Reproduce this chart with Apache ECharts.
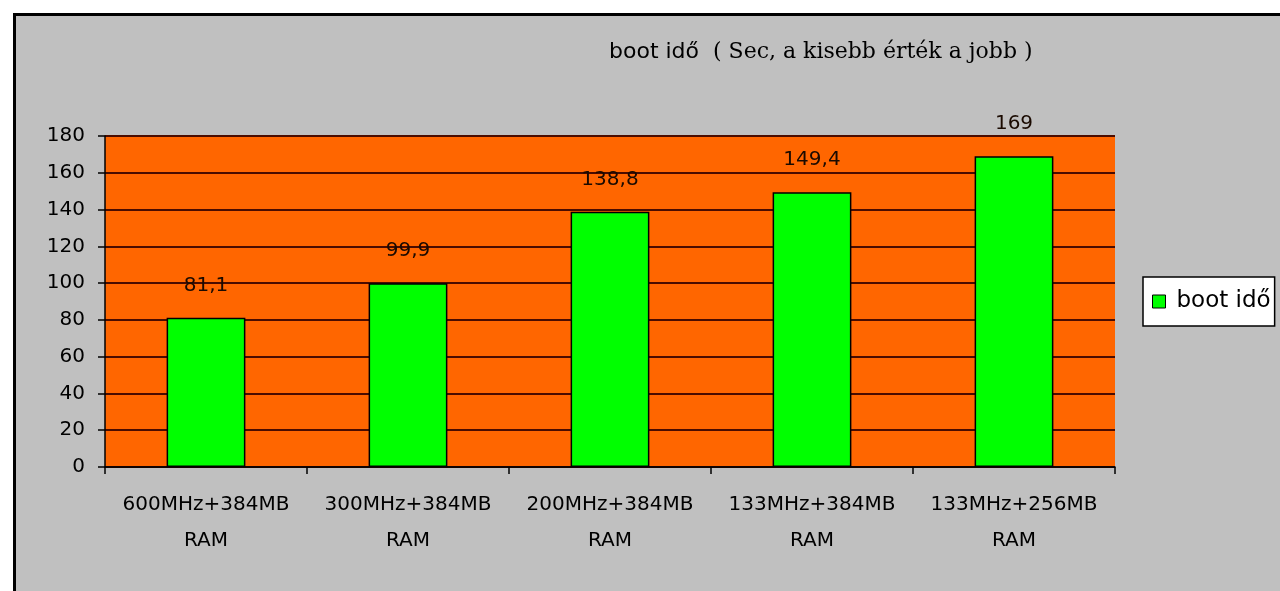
<!DOCTYPE html>
<html>
<head>
<meta charset="utf-8">
<script src="https://cdn.jsdelivr.net/npm/echarts@6/dist/echarts.min.js"></script>
<style>
  html, body { margin: 0; padding: 0; background: #ffffff; width: 1280px; height: 591px; overflow: hidden; }
  #frame { position: absolute; left: 13px; top: 13px; width: 1267px; height: 578px; background: #000; }
  #chart { position: absolute; left: 16px; top: 16px; width: 1264px; height: 575px; }
</style>
</head>
<body>
<div id="frame"></div>
<div id="chart"></div>
<script>
const categories = ['600MHz+384MB RAM', '300MHz+384MB RAM', '200MHz+384MB RAM', '133MHz+384MB RAM', '133MHz+256MB RAM'];
const bootTimes = [81.1, 99.9, 138.8, 149.4, 169];
const seriesName = 'boot idő';
const titleMain = 'boot idő';
const titleSub = '( Sec, a kisebb érték a jobb )';
const yMin = 0, yMax = 180, yStep = 20;

const chart = echarts.init(document.getElementById('chart'));
chart.setOption({
  backgroundColor: '#c0c0c0',
  animation: false,
  title: {
    left: 588,
    top: 17,
    text: '{a|' + titleMain + '}{b|  ' + titleSub + '}',
    textStyle: {
      fontWeight: 'normal',
      rich: {
        a: { fontFamily: 'DejaVu Sans', fontSize: 22, fontWeight: 'normal', color: '#000', lineHeight: 28 },
        b: { fontFamily: 'DejaVu Serif', fontSize: 22, fontWeight: 'normal', color: '#000', lineHeight: 28 }
      }
    }
  },
  legend: {
    left: 1127,
    top: 261,
    orient: 'vertical',
    backgroundColor: '#ffffff',
    borderColor: '#000',
    borderWidth: 1.5,
    padding: [13, 4, 13, 9],
    itemWidth: 13,
    itemHeight: 13,
    icon: 'rect',
    itemStyle: { borderColor: '#000', borderWidth: 1 },
    textStyle: { fontFamily: 'DejaVu Sans', fontSize: 23, color: '#000', padding: [0, 0, 0, 6] },
    data: [seriesName]
  },
  grid: {
    left: 89, top: 120, right: 165, bottom: 124,
    show: true, backgroundColor: '#ff6600', borderWidth: 0
  },
  xAxis: {
    type: 'category',
    data: categories,
    axisLine: { lineStyle: { color: '#000', width: 1.5 } },
    axisTick: { show: true, length: 7, interval: 0, lineStyle: { color: '#000', width: 1.5 } },
    axisLabel: {
      interval: 0,
      margin: 20,
      fontFamily: 'DejaVu Sans', fontSize: 20, color: '#000', lineHeight: 36,
      formatter: v => v.replace(' ', '\n')
    }
  },
  yAxis: {
    type: 'value',
    min: yMin, max: yMax, interval: yStep,
    axisLine: { show: true, lineStyle: { color: '#000', width: 1.5 } },
    axisTick: { show: true, length: 7, lineStyle: { color: '#000', width: 1.5 } },
    axisLabel: { margin: 20, fontFamily: 'DejaVu Sans', fontSize: 20, color: '#000' },
    splitLine: { show: true, lineStyle: { color: '#4a0c00', width: 2 } }
  },
  series: [{
    name: seriesName,
    type: 'bar',
    data: bootTimes,
    barWidth: '39%',
    itemStyle: { color: '#00ff00', borderColor: '#000', borderWidth: 1.5 },
    label: {
      show: true, position: 'top', distance: 22,
      fontFamily: 'DejaVu Sans', fontSize: 20, color: '#1a0a00',
      formatter: p => String(p.value).replace('.', ',')
    }
  }]
});
</script>
</body>
</html>
